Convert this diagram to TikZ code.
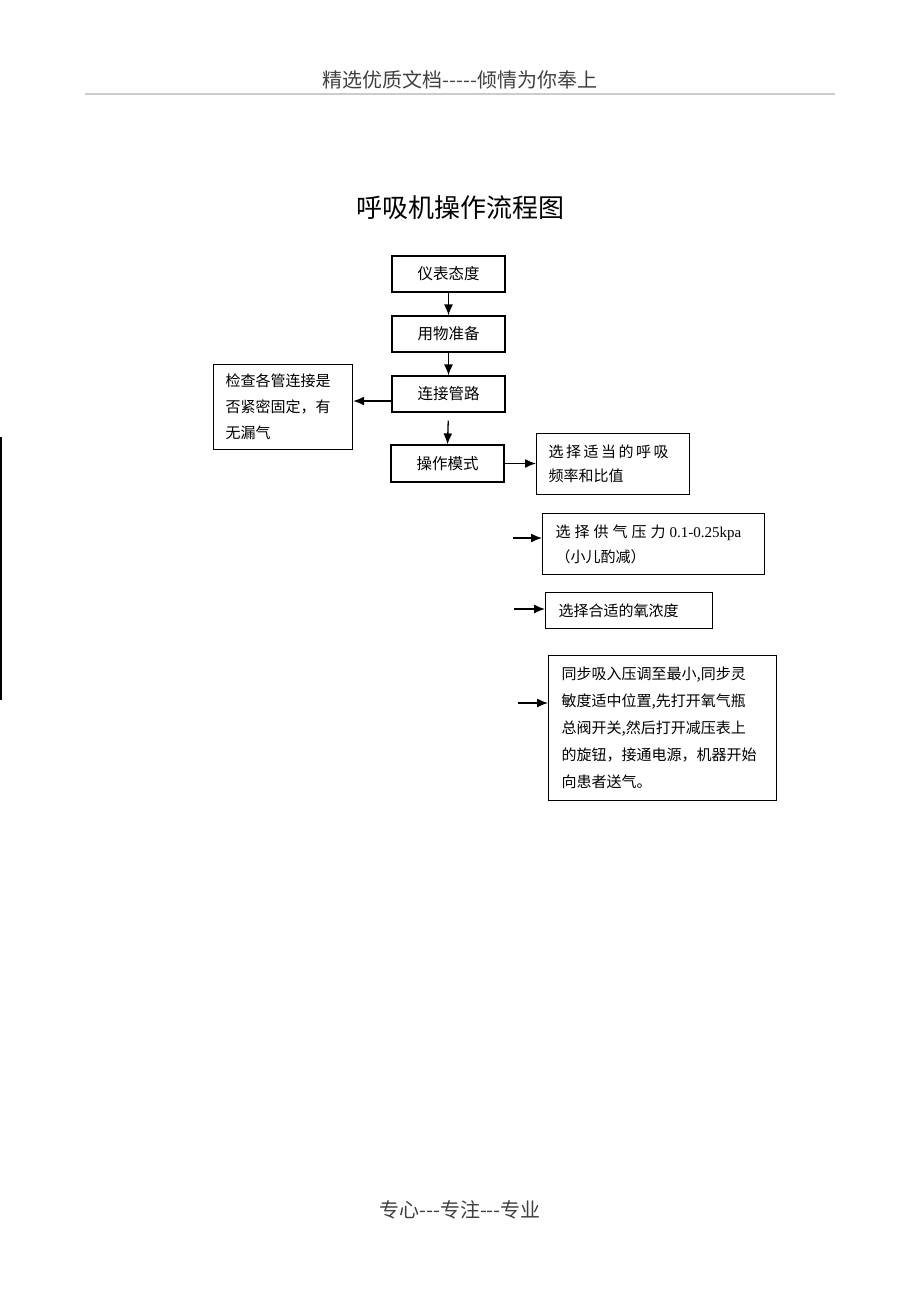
\documentclass[tikz,border=0pt]{standalone}
\usepackage{fontspec}
\setmainfont{Noto Sans CJK SC}
\newfontfamily\latinfont{Liberation Serif}
\usetikzlibrary{arrows.meta}

\tikzset{
  stepbox/.style={draw, line width=1.2pt, minimum width=113pt, minimum height=36pt,
    inner sep=0pt, font=\fontsize{15.5}{18}\selectfont},
  notebox/.style={draw, line width=1.2pt, anchor=north west, align=left,
    inner xsep=12pt, inner ysep=0pt, font=\fontsize{15}{26}\selectfont},
  flow/.style={-{Latex[length=11pt,width=9pt]}, line width=1.3pt}
}
\newcommand{\wsp}{\hspace{4pt}}

\begin{document}
\begin{tikzpicture}[x=1pt,y=-1pt]
\useasboundingbox (0,0) rectangle (920,1302);

% page header and footer
\node[text=black!75, font=\fontsize{20}{22}\selectfont] (head) at (460,80) {精选优质文档-{}-{}-{}-{}-倾情为你奉上};
\draw[black!20, line width=2pt] (85,94) -- (835,94);
\node[text=black!75, font=\fontsize{20}{22}\selectfont] (foot) at (460,1210) {专心-{}-{}-专注-{}-{}-专业};
\draw[line width=1.5pt] (1,437) -- (1,700);

% title
\node[font=\fontsize{26}{28}\selectfont] (title) at (460,208) {呼吸机操作流程图};

% main steps
\node[stepbox] (b1) at (448.5,274) {仪表态度};
\node[stepbox] (b2) at (448.5,334) {用物准备};
\node[stepbox] (b3) at (448.5,394) {连接管路};
\node[stepbox, minimum height=37pt] (b4) at (447.5,463.5) {操作模式};

% side notes
\node[notebox, text width=115pt, minimum width=139pt, minimum height=85pt] (check) at (213,364)
  {检查各管连接是\\否紧密固定，有\\无漏气};
\node[notebox, text width=129pt, minimum width=153pt, minimum height=61pt, font=\fontsize{15}{24}\selectfont] (r1) at (536,433)
  {选\,择\,适\,当\,的\,呼\,吸\\频率和比值};
\node[notebox, inner xsep=13pt, text width=196pt, minimum width=222pt, minimum height=61pt, font=\fontsize{15}{25}\selectfont] (r2) at (542,513)
  {\mbox{选\wsp 择\wsp 供\wsp 气\wsp 压\wsp 力\wsp{\latinfont 0.1-0.25kpa}}\\（小儿酌减）};
\node[notebox, inner xsep=13pt, text width=141pt, minimum width=167pt, minimum height=36pt] (r3) at (545,592)
  {选择合适的氧浓度};
\node[notebox, inner xsep=13pt, text width=202pt, minimum width=228pt, minimum height=145pt, font=\fontsize{15}{27}\selectfont] (r4) at (548,655)
  {同步吸入压调至最小,同步灵\\敏度适中位置,先打开氧气瓶\\总阀开关,然后打开减压表上\\的旋钮，接通电源，机器开始\\向患者送气。};

\coordinate (a2) at (513,538);
\coordinate (a3) at (514,609);
\coordinate (a4) at (518,703);

% arrows
\draw[flow] (b1.south) -- (b2.north);
\draw[flow] (b2.south) -- (b3.north);
\draw[flow, shorten <=8pt] (b3.south) -- (b4.north);
\draw[flow] ([yshift=-7pt]b3.west) -- ([yshift=-7pt]b3.west -| check.east);
\draw[flow] (b4.east) -- (b4.east -| r1.west);
\draw[flow] (a2) -- (a2 -| r2.west);
\draw[flow] (a3) -- (a3 -| r3.west);
\draw[flow] (a4) -- (a4 -| r4.west);
\end{tikzpicture}
\end{document}
